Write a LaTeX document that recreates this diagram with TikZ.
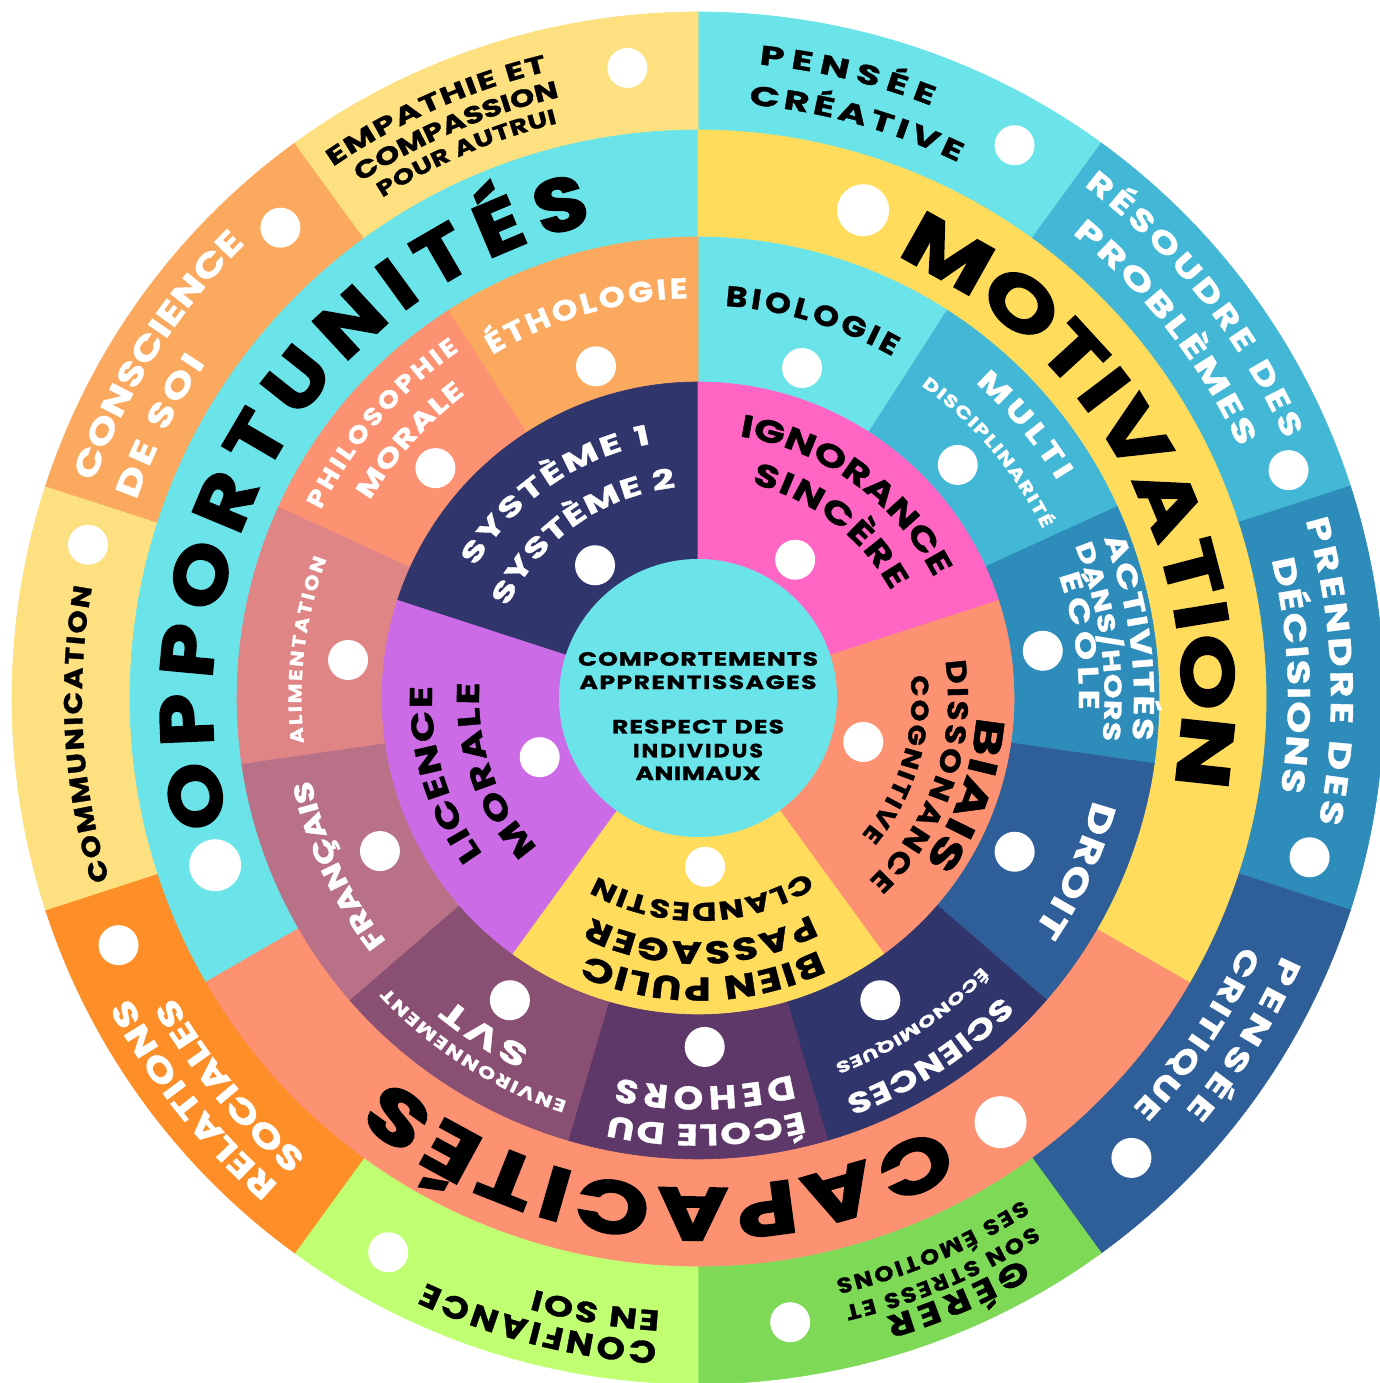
\documentclass[tikz,border=0pt]{standalone}
\usepackage{fontspec}
\usetikzlibrary{decorations.text}
\setmainfont{Poppins}
% label faces of increasing width, and heavy faces for the three levers
\newfontfamily\fa{Poppins}[FakeStretch=1.15,FakeBold=1.2]
\newfontfamily\fb{Poppins}[FakeStretch=1.3,FakeBold=1.2]
\newfontfamily\fc{Poppins}[FakeStretch=1.45,FakeBold=1.2]
\newfontfamily\ga{Poppins}[FakeStretch=1.15,FakeBold=2.5]
\newfontfamily\gb{Poppins}[FakeStretch=1.3,FakeBold=2.5]

% palette
\definecolor{cyanc}{HTML}{6BE4E9}
\definecolor{paleyel}{HTML}{FDE07F}
\definecolor{sunyel}{HTML}{FFDC5C}
\definecolor{blueA}{HTML}{43B7D6}
\definecolor{blueB}{HTML}{2E8CBB}
\definecolor{blueC}{HTML}{2F5F99}
\definecolor{navy}{HTML}{30356C}
\definecolor{grass}{HTML}{7ED957}
\definecolor{lime}{HTML}{C1FF72}
\definecolor{deeporange}{HTML}{FD8E28}
\definecolor{softorange}{HTML}{FBA95E}
\definecolor{salmon}{HTML}{FD9273}
\definecolor{plum}{HTML}{5D3868}
\definecolor{mauve}{HTML}{8A5073}
\definecolor{rosewood}{HTML}{B87186}
\definecolor{oldrose}{HTML}{E08585}
\definecolor{hotpink}{HTML}{FF66C4}
\definecolor{violet}{HTML}{CB6CE6}

% pie slice: colour, start angle, end angle, radius
\newcommand\slice[4]{%
  \fill[#1,draw=#1,line width=0.6pt] (0,0) -- (#2:#4pt)
    arc[start angle=#2,end angle=#3,radius=#4pt] -- cycle;}

% text on a clockwise circular arc, spread over a given angular extent
% font, mid radius, centre angle, angular extent, cap height, colour, text
\newcommand\ringtext[7]{%
  \begingroup
  \pgfmathsetmacro\rtsize{#5/0.7}%
  \pgfmathsetmacro\rtrad{#2-#5/2}%
  \pgfmathsetmacro\rta{#3+#4/2}%
  \pgfmathsetmacro\rtb{#3-#4/2}%
  \path[decorate,decoration={text along path,text align=fit to path,text color=#6,
      text={|#1\bfseries\fontsize{\rtsize pt}{\rtsize pt}\selectfont|#7}}]
    (\rta:\rtrad pt) arc[start angle=\rta,end angle=\rtb,radius=\rtrad pt];
  \endgroup}

% horizontal spread text in the core: font, mid y, length, cap height, colour, text
\newcommand\linetext[6]{%
  \begingroup
  \pgfmathsetmacro\rtsize{#4/0.7}%
  \pgfmathsetmacro\lx{#3/2}%
  \pgfmathsetmacro\ly{#2-#4/2}%
  \path[decorate,decoration={text along path,text align=fit to path,text color=#5,
      text={|#1\bfseries\fontsize{\rtsize pt}{\rtsize pt}\selectfont|#6}}]
    (-\lx pt,\ly pt) -- (\lx pt,\ly pt);
  \endgroup}

\newcommand\marker[2]{\fill[white] (#1:#2pt) circle[radius=20pt];}
\newcommand\bigmarker[2]{\fill[white] (#1:#2pt) circle[radius=26pt];}

\begin{document}
\begin{tikzpicture}
\fill[white] (-698pt,-685pt) rectangle (682pt,698pt);
\useasboundingbox (-698pt,-685pt) rectangle (682pt,698pt);

% outer ring: skills
\slice{cyanc}{54}{90}{686}
\slice{blueA}{18}{54}{686}
\slice{blueB}{-18}{18}{686}
\slice{blueC}{-54}{-18}{686}
\slice{grass}{-90}{-54}{686}
\slice{lime}{-126}{-90}{686}
\slice{deeporange}{-162}{-126}{686}
\slice{paleyel}{162}{198}{686}
\slice{softorange}{126}{162}{686}
\slice{paleyel}{90}{126}{686}

% fourth ring: three levers
\slice{cyanc}{90}{210}{568}
\slice{salmon}{210}{330}{568}
\slice{sunyel}{-30}{90}{568}

% third ring: disciplines
\slice{cyanc}{57.273}{90}{461}
\slice{blueA}{24.545}{57.273}{461}
\slice{blueB}{-8.182}{24.545}{461}
\slice{blueC}{-40.909}{-8.182}{461}
\slice{navy}{-73.636}{-40.909}{461}
\slice{plum}{-106.364}{-73.636}{461}
\slice{mauve}{-139.091}{-106.364}{461}
\slice{rosewood}{-171.818}{-139.091}{461}
\slice{oldrose}{155.455}{188.182}{461}
\slice{salmon}{122.727}{155.455}{461}
\slice{softorange}{90}{122.727}{461}

% second ring: notions
\slice{navy}{90}{162}{316}
\slice{hotpink}{18}{90}{316}
\slice{salmon}{-54}{18}{316}
\slice{sunyel}{-126}{-54}{316}
\slice{violet}{162}{234}{316}

% core
\fill[cyanc] (0,0) circle[radius=139pt];

% white markers
\marker{96.4}{634}\marker{60.2}{637}\marker{21.1}{633}\marker{-14.6}{632}\marker{-46.7}{632}
\marker{-81.6}{631}\marker{-119.2}{635}\marker{-156.9}{630}\marker{165.9}{629}\marker{131.6}{629}
\bigmarker{71.3}{515}\bigmarker{199.1}{511}\bigmarker{-54.5}{521}
\marker{107.1}{347}\marker{72.5}{346}\marker{41.9}{349}\marker{7.8}{348}\marker{-25.9}{352}
\marker{-58.9}{353}\marker{-88.9}{349}\marker{-121.9}{356}\marker{-154.3}{353}\marker{173.8}{352}
\marker{138.8}{349}
\marker{127.8}{168}\marker{54.9}{169}\marker{-14.9}{171}\marker{-87.6}{169}\marker{-159.5}{169}

% outer ring labels
\ringtext\fc{653}{114}{21}{17}{black}{EMPATHIE ET}
\ringtext\fb{625}{113.2}{20}{17}{black}{COMPASSION}
\ringtext\fb{599}{113}{18.5}{15}{black}{POUR AUTRUI}
\ringtext\fc{646}{76.5}{16}{19}{black}{PENSÉE}
\ringtext\fc{605}{74.6}{21}{19}{black}{CRÉATIVE}
\ringtext\fb{652}{38.4}{29.2}{21}{white}{RÉSOUDRE DES}
\ringtext\fc{607}{38}{26.3}{21}{white}{PROBLÈMES}
\ringtext\fb{644}{2.45}{27.7}{22}{white}{PRENDRE DES}
\ringtext\fb{601}{2.2}{22.7}{22}{white}{DÉCISIONS}
\ringtext\fc{649}{-32}{16.5}{21}{white}{PENSÉE}
\ringtext\fb{608}{-33.9}{18.9}{21}{white}{CRITIQUE}
\ringtext\fb{658}{-66.6}{13.2}{22}{black}{GÉRER}
\ringtext\fa{633}{-67}{18.9}{15}{black}{SON STRESS ET}
\ringtext\fa{605}{-66.9}{19.6}{15}{black}{SES ÉMOTIONS}
\ringtext\fa{656}{-104.3}{21.3}{22}{black}{CONFIANCE}
\ringtext\fb{624}{-99.5}{11.9}{20}{black}{EN SOI}
\ringtext\fb{654}{-141.5}{21.5}{23}{white}{RELATIONS}
\ringtext\fb{615}{-140.4}{19.9}{23}{white}{SOCIALES}
\ringtext\fa{625}{183.4}{27.5}{18}{black}{COMMUNICATION}
\ringtext\fb{653}{147.6}{25.4}{23}{white}{CONSCIENCE}
\ringtext\fb{607}{153.2}{14.8}{23}{white}{DE SOI}

% lever labels
\ringtext\ga{512}{148.75}{92.5}{52}{black}{OPPORTUNITÉS}
\ringtext\gb{510}{27.75}{76.3}{52}{black}{MOTIVATION}
\ringtext\gb{516}{-94.95}{68.3}{52}{black}{CAPACITÉS}

% discipline labels
\ringtext\fa{410}{106.2}{29.5}{20}{white}{ÉTHOLOGIE}
\ringtext\fa{403}{73.2}{25.7}{20}{black}{BIOLOGIE}
\ringtext\fb{430}{39.9}{17.5}{20}{white}{MULTI}
\ringtext\fb{390}{40.3}{28.3}{12}{white}{DISCIPLINARITÉ}
\ringtext\fb{446}{8}{27}{20}{white}{ACTIVITÉS}
\ringtext\fb{415}{8}{28}{17}{white}{DANS/HORS}
\ringtext\fb{391}{8.5}{20.5}{20}{white}{ÉCOLE}
\ringtext\fb{420}{-24.5}{20}{24}{white}{DROIT}
\ringtext\fb{435}{-57.1}{25.3}{20}{white}{SCIENCES}
\ringtext\fc{396}{-56.5}{26}{11}{white}{ÉCONOMIQUES}
\ringtext\fb{437}{-88.9}{26.2}{21}{white}{ÉCOLE DU}
\ringtext\fa{400}{-89}{26}{23}{white}{DEHORS}
\ringtext\fb{430}{-122.5}{29}{12}{white}{ENVIRONNEMENT}
\ringtext\fc{400}{-122.5}{14}{22}{white}{SVT}
\ringtext\fb{405}{-155}{26}{19}{white}{FRANÇAIS}
\ringtext\fa{403}{173}{27}{13}{white}{ALIMENTATION}
\ringtext\fa{430}{139}{29}{17}{white}{PHILOSOPHIE}
\ringtext\fb{392}{138.2}{21.5}{18}{white}{MORALE}

% notion labels
\ringtext\fc{268}{125}{49}{19}{white}{SYSTÈME 1}
\ringtext\fc{221}{125.3}{58.5}{19}{white}{SYSTÈME 2}
\ringtext\fb{276}{54}{54}{22}{black}{IGNORANCE}
\ringtext\fb{232}{52.5}{47}{22}{black}{SINCÈRE}
\ringtext\fc{293}{-19.8}{32}{28}{black}{BIAIS}
\ringtext\fa{260}{-19.2}{55.5}{20}{black}{DISSONANCE}
\ringtext\fa{222}{-17}{46}{17}{black}{COGNITIVE}
\ringtext\fb{291}{-89}{49}{23}{black}{BIEN PULIC}
\ringtext\fb{255}{-89.3}{53.5}{22}{black}{PASSAGER}
\ringtext\fb{214}{-88.8}{61.5}{18}{black}{CLANDESTIN}
\ringtext\fb{277}{196.7}{38.5}{22}{black}{LICENCE}
\ringtext\fb{230}{199.5}{47}{22}{black}{MORALE}

% core labels
\linetext\fb{39}{240}{13.5}{black}{COMPORTEMENTS}
\linetext\fb{15.7}{237}{13.5}{black}{APPRENTISSAGES}
\linetext\fb{-28.7}{172}{13.5}{black}{RESPECT DES}
\linetext\fa{-52.7}{130}{13.5}{black}{INDIVIDUS}
\linetext\fb{-75.3}{125}{13.5}{black}{ANIMAUX}
\end{tikzpicture}
\end{document}
